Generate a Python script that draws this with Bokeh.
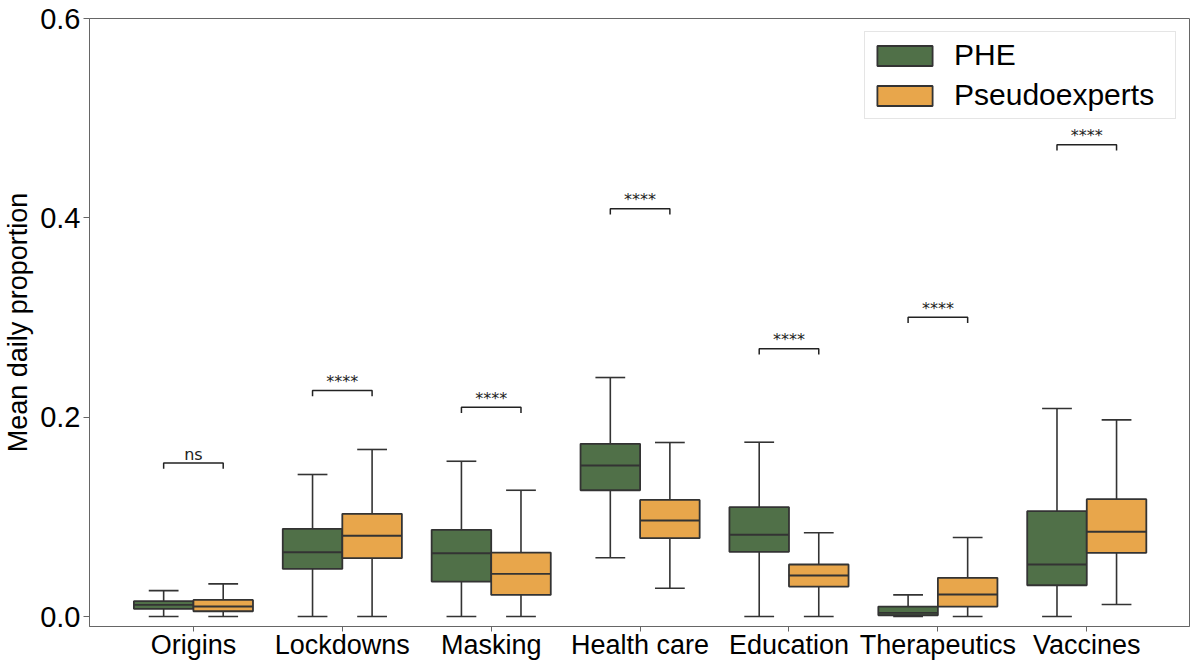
from bokeh.plotting import figure
from bokeh.models import Range1d, FixedTicker, PrintfTickFormatter, Legend, LegendItem, ColumnDataSource
from bokeh.core.properties import value
from bokeh.embed import file_html
from bokeh.resources import INLINE

categories = ["Origins", "Lockdowns", "Masking", "Health care", "Education", "Therapeutics", "Vaccines"]

phe_low = [0.0, 0.0, 0.0, 0.059, 0.0, 0.0, 0.0]
phe_q1 = [0.0077, 0.0478, 0.0351, 0.1267, 0.0649, 0.0013, 0.0314]
phe_med = [0.0117, 0.0645, 0.0635, 0.1515, 0.0820, 0.0037, 0.0522]
phe_q3 = [0.0154, 0.0880, 0.0870, 0.1733, 0.1097, 0.0100, 0.1057]
phe_high = [0.0260, 0.1425, 0.1558, 0.2398, 0.1749, 0.0217, 0.2087]

pse_low = [0.0, 0.0, 0.0, 0.0284, 0.0, 0.0, 0.012]
pse_q1 = [0.0053, 0.0585, 0.0217, 0.0786, 0.0301, 0.0100, 0.0639]
pse_med = [0.0100, 0.0810, 0.0428, 0.0963, 0.0411, 0.0221, 0.0850]
pse_q3 = [0.0167, 0.1030, 0.0642, 0.1170, 0.0522, 0.0388, 0.1177]
pse_high = [0.0328, 0.1676, 0.1267, 0.1746, 0.0840, 0.0793, 0.1973]

sig_y = [0.154, 0.2267, 0.210, 0.409, 0.2686, 0.3003, 0.4733]
sig_labels = ["ns", "****", "****", "****", "****", "****", "****"]

y_ticks = [0.0, 0.2, 0.4, 0.6]

GREEN = "#507048"
ORANGE = "#e8a64b"
EDGE = "#333333"
FRAME = "#666666"

p = figure(
    frame_width=1100, frame_height=608,
    x_range=Range1d(-0.698, 6.69), y_range=Range1d(-0.01, 0.6),
    output_backend="svg", toolbar_location=None,
    min_border_left=82, min_border_right=4, min_border_top=18, min_border_bottom=30,
)
p.grid.visible = False
p.outline_line_color = FRAME
p.outline_line_width = 1
p.background_fill_color = "white"
p.border_fill_color = "white"

BOX_W = 0.4
CAP_W = 0.2
DROP = 0.0057

def draw_series(offset, low, q1, med, q3, high, color):
    n = len(categories)
    xc = [i + offset for i in range(n)]
    src = ColumnDataSource(dict(
        x=xc, low=low, q1=q1, med=med, q3=q3, high=high,
        xl=[x - BOX_W / 2 for x in xc], xr=[x + BOX_W / 2 for x in xc],
        cl=[x - CAP_W / 2 for x in xc], cr=[x + CAP_W / 2 for x in xc],
    ))
    p.segment(x0="x", y0="q3", x1="x", y1="high", source=src, line_color=EDGE, line_width=1.6)
    p.segment(x0="x", y0="low", x1="x", y1="q1", source=src, line_color=EDGE, line_width=1.6)
    p.segment(x0="cl", y0="high", x1="cr", y1="high", source=src, line_color=EDGE, line_width=1.6)
    p.segment(x0="cl", y0="low", x1="cr", y1="low", source=src, line_color=EDGE, line_width=1.6)
    r = p.vbar(x="x", width=BOX_W, bottom="q1", top="q3", source=src,
               fill_color=color, line_color=EDGE, line_width=1.8)
    p.segment(x0="xl", y0="med", x1="xr", y1="med", source=src, line_color=EDGE, line_width=1.9)
    return r

r_phe = draw_series(-0.2, phe_low, phe_q1, phe_med, phe_q3, phe_high, GREEN)
r_pse = draw_series(0.2, pse_low, pse_q1, pse_med, pse_q3, pse_high, ORANGE)

# significance brackets
xs, ys = [], []
for i, y in enumerate(sig_y):
    xs.append([i - 0.2, i - 0.2, i + 0.2, i + 0.2])
    ys.append([y - DROP, y, y, y - DROP])
p.multi_line(xs=xs, ys=ys, line_color="#222222", line_width=1.5)
p.text(x=list(range(len(categories))), y=sig_y, text=sig_labels,
       text_font=value("DejaVu Sans"), text_font_size="16px", text_color="#222222",
       text_align="center", text_baseline="alphabetic", y_offset=-9)

# axes
p.xaxis.ticker = FixedTicker(ticks=list(range(len(categories))))
p.xaxis.major_label_overrides = {i: c for i, c in enumerate(categories)}
p.yaxis.ticker = FixedTicker(ticks=y_ticks)
p.yaxis.formatter = PrintfTickFormatter(format="%.1f")
for ax in (p.xaxis, p.yaxis):
    ax.axis_line_color = FRAME
    ax.major_tick_line_color = FRAME
    ax.major_tick_out = 6
    ax.major_tick_in = 0
    ax.minor_tick_line_color = None
    ax.major_label_text_font = "Liberation Sans"
    ax.major_label_text_color = "black"
p.xaxis.major_tick_out = 5
p.xaxis.major_label_text_font_size = "27px"
p.xaxis.major_label_standoff = -2
p.yaxis.major_label_text_font_size = "29px"
p.yaxis.major_label_standoff = 3
p.yaxis.axis_label = "Mean daily proportion"
p.yaxis.axis_label_text_font = "Liberation Sans"
p.yaxis.axis_label_text_font_size = "27px"
p.yaxis.axis_label_text_font_style = "normal"
p.yaxis.axis_label_text_color = "black"
p.yaxis.axis_label_standoff = 4

legend = Legend(items=[LegendItem(label="PHE", renderers=[r_phe]),
                       LegendItem(label="Pseudoexperts", renderers=[r_pse])],
                location="top_right")
legend.label_text_font = "Liberation Sans"
legend.label_text_font_size = "30px"
legend.label_text_color = "black"
legend.glyph_width = 69
legend.glyph_height = 25
legend.label_height = 36
legend.label_width = 216
legend.label_standoff = 15
legend.padding = 5
legend.spacing = 4
legend.margin = 13
legend.border_line_color = "#cccccc"
legend.border_line_width = 1
legend.background_fill_alpha = 0.85
p.add_layout(legend)

open("out.html", "w").write(file_html(p, INLINE))
